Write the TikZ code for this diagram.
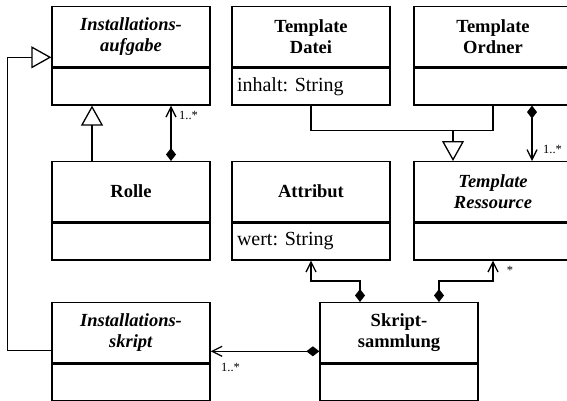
\documentclass[tikz,border=0pt]{standalone}
\usepackage{fontspec}
\setmainfont{Liberation Serif}
\usepackage{tikz}
\usetikzlibrary{arrows.meta, positioning}
\frenchspacing
\newcommand{\clstitlefont}{\fontsize{18.5}{21}\selectfont\bfseries}
\newcommand{\clsattrfont}{\fontsize{20}{22}\selectfont}
\newcommand{\multfont}{\fontsize{12.5}{14}\selectfont}
% class box: name, centre x, top y, title, attribute
\newcommand{\umlclass}[5]{%
  \node[clstitle, anchor=north] (#1) at (#2,#3) {#4};
  \node[clsattr, anchor=north] (#1-a) at (#1.south) {#5};
}

\tikzset{
  cls/.style={draw, line width=1.3pt, minimum width=158pt, inner sep=0pt},
  clstitle/.style={cls, minimum height=60pt, align=center, font=\clstitlefont},
  clsattr/.style={cls, minimum height=37pt, text width=148pt, inner xsep=5pt, align=left, font=\clsattrfont},
  conn/.style={line width=1.3pt},
  gen/.style={conn, -{Triangle[open, length=20pt, width=22pt, fill=white]}},
  comp/.style={conn, {Diamond[length=13pt, width=10pt]}-{Straight Barb[length=10pt, width=10pt]}},
  mult/.style={font=\multfont, inner sep=0pt}
}

\begin{document}
\begin{tikzpicture}[x=1pt, y=-1pt, >=Stealth]
\useasboundingbox (0,0) rectangle (567,401);

\umlclass{aufgabe}{131}{6}{\textit{Installations-}\\\textit{aufgabe}}{}
\umlclass{datei}{311}{6}{Template\\Datei}{inhalt: String}
\umlclass{ordner}{493}{6}{Template\\Ordner}{}
\umlclass{rolle}{131}{161}{Rolle}{}
\umlclass{attribut}{311}{161}{Attribut}{wert: String}
\umlclass{ressource}{493}{161}{\textit{Template}\\\textit{Ressource}}{}
\umlclass{skript}{131}{302}{\textit{Installations-}\\\textit{skript}}{}
\umlclass{sammlung}{399}{302}{Skript-\\sammlung}{}

% generalisations
\draw[gen] ([yshift=13pt]skript.south west) -- ++(-44,0) |- ([yshift=10pt]aufgabe.south west);
\draw[gen] ([xshift=-39pt]rolle.north) -- ([xshift=-39pt]aufgabe-a.south);
\path (datei-a.south) ++(0,25) coordinate (merge);
\coordinate (genpt) at ([xshift=-40pt]ressource.north);
\draw[conn] (datei-a.south) -- (merge) -| (ordner-a.south);
\draw[gen] (merge -| genpt) -- (genpt);

% compositions
\draw[comp] ([xshift=40pt]rolle.north) -- ([xshift=40pt]aufgabe-a.south);
\draw[comp] ([xshift=39pt]ordner-a.south) -- ([xshift=39pt]ressource.north);
\draw[comp] ([xshift=-39pt]sammlung.north) -- ++(0,-21) -| (attribut-a.south);
\draw[comp] ([xshift=40pt]sammlung.north) -- ++(0,-21) -| (ressource-a.south);
\coordinate (sk-in) at ([yshift=12pt]sammlung.south west);
\draw[comp] (sk-in) -- (sk-in -| skript.east);

% multiplicities
\node[mult, anchor=west] (m-aufgabe) at (179,115) {1..*};
\node[mult, anchor=west] (m-ressource) at (543,149) {1..*};
\node[mult] (m-res-star) at (510,270) {*};
\node[mult, anchor=west] (m-skript) at (221,367) {1..*};

\end{tikzpicture}
\end{document}
